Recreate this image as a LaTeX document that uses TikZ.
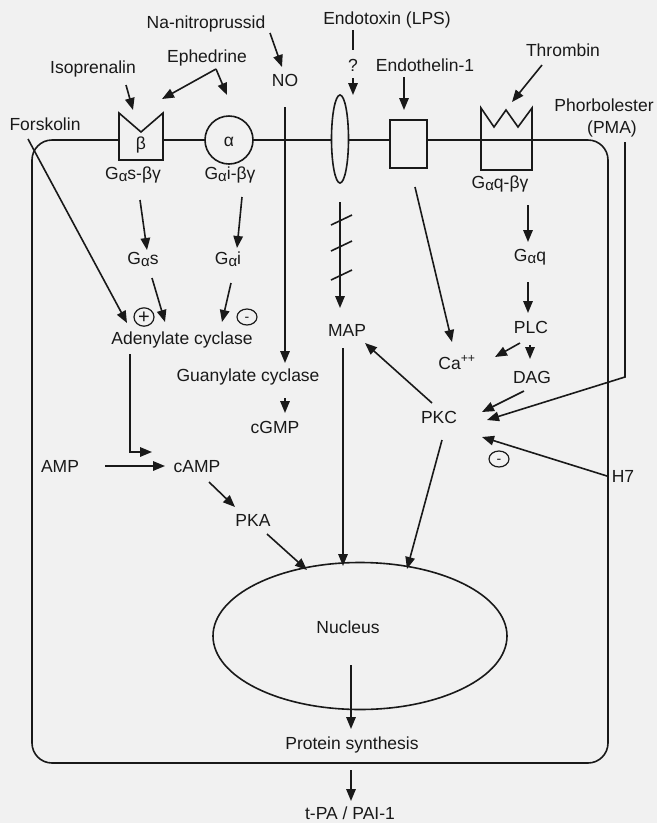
\documentclass[tikz,border=0pt]{standalone}
\usepackage{fontspec}
\setmainfont{Liberation Sans}
\usetikzlibrary{arrows.meta,shapes.geometric}
\definecolor{bg}{RGB}{241,241,241}
\definecolor{ink}{RGB}{25,25,25}
\newcommand{\Gsub}{G\raisebox{-1.8pt}{\fontsize{15}{15}\selectfont α}}
\begin{document}
\begin{tikzpicture}[x=1pt,y=-1pt,
  every node/.style={font=\fontsize{17.5}{21}\selectfont, text=ink, inner sep=1pt, text height=12.5pt, text depth=0pt},
  arr/.style={draw=ink, line width=1.6pt, -{Triangle[length=12pt,width=9.5pt]}},
  ln/.style={draw=ink, line width=1.6pt},
  sign/.style={ellipse, draw=ink, line width=1.2pt, minimum width=20pt, minimum height=16pt, inner sep=0pt, font=\fontsize{20}{20}\selectfont, text height=13pt, text depth=0pt},
  signm/.style={sign, font=\fontsize{14}{14}\selectfont, text height=8.5pt}]
\useasboundingbox (0,0) rectangle (657,823);
\fill[bg] (0,0) rectangle (657,823);

% cell membrane
\draw[ln, rounded corners=20pt] (32,140) rectangle (608,763);

% receptors
\draw[ln, fill=bg, line join=miter] (119,113) -- (119,160) -- (163,160) -- (163,113) -- (141,132) -- cycle;
\node (beta) at (141,143) {β};
\node[circle, draw=ink, line width=1.6pt, fill=bg, minimum size=48pt, inner sep=0pt] (alpha) at (229,140) {α};
\node[ellipse, draw=ink, line width=1.6pt, fill=bg, minimum width=17pt, minimum height=88pt, inner sep=0pt] (lpsell) at (340,139) {};
\node[rectangle, draw=ink, line width=1.6pt, fill=bg, minimum width=37pt, minimum height=48pt, inner sep=0pt] (etbox) at (408.5,144) {};
\draw[ln, line join=miter] (481,170) -- (481,108) -- (494,127) -- (506,110) -- (518,127) -- (532,108) -- (532,170) -- cycle;
\coordinate (thrc) at (506,139);

% texts
\node (nitro) at (206,22) {Na-nitroprussid};
\node (no) at (285,80) {NO};
\node (iso) at (93,67) {Isoprenalin};
\node (eph) at (207,56) {Ephedrine};
\node (forsk) at (45,124) {Forskolin};
\node (lps) at (387,18) {Endotoxin (LPS)};
\node (q) at (353,65) {?};
\node (et) at (425,65) {Endothelin-1};
\node (thr) at (563,50) {Thrombin};
\node (pmaa) at (604,105) {Phorbolester};
\node (pmab) at (612,127) {(PMA)};
\node (gasbg) at (133,173) {\Gsub s-βγ};
\node (gaibg) at (230,173) {\Gsub i-βγ};
\node (gaqbg) at (500,182) {\Gsub q-βγ};
\node (gas) at (143,258) {\Gsub s};
\node (gai) at (228,258) {\Gsub i};
\node[sign] (plus) at (144,317) {+};
\node[signm] (minus) at (247,317) {-};
\node (ac) at (182,338) {Adenylate cyclase};
\node (gc) at (248,375) {Guanylate cyclase};
\node (cgmp) at (275,427) {cGMP};
\node (amp) at (60,466) {AMP};
\node (camp) at (197,466) {cAMP};
\node (pka) at (253,520) {PKA};
\node (map) at (347,330) {MAP};
\node (gaq) at (530,255) {\Gsub q};
\node (plc) at (531,327) {PLC};
\node (ca) at (457,363) {Ca\textsuperscript{++}};
\node (dag) at (532,377) {DAG};
\node (pkc) at (439,417) {PKC};
\node[signm] (minus2) at (499,459) {-};
\node (h7) at (623,476) {H7};
\node[ellipse, draw=ink, line width=1.6pt, minimum width=294pt, minimum height=147pt, inner sep=0pt] (nucleus) at (360,636) {};
\node (nuclab) at (348,627) {Nucleus};
\node (prot) at (352,743) {Protein synthesis};
\node (tpa) at (350,813) {t-PA / PAI-1};

% connectors
\draw[arr] ([shift={(64,11)}]nitro.center) -- ([shift={(-3,-13)}]no.center);
\draw[arr] ([shift={(33,18)}]iso.center) -- ([shift={(-8,-33)}]beta.center);
\coordinate (ephv) at ([shift={(9,13)}]eph.center);
\draw[arr] (ephv) -- ([shift={(21,-44)}]beta.center);
\draw[arr] (ephv) -- ([shift={(-2,-45)}]alpha.center);
\draw[arr] ([shift={(0,27)}]no.center) -- ([shift={(37,-12)}]gc.center);
\draw[arr] ([shift={(-17,15)}]forsk.center) -- ([shift={(-17,6)}]plus.center);
\draw[arr] ([shift={(7,27)}]gasbg.center) -- ([shift={(4,-8)}]gas.center);
\draw[arr] ([shift={(12,24)}]gaibg.center) -- ([shift={(9,-10)}]gai.center);
\draw[arr] ([shift={(9,20)}]gas.center) -- ([shift={(-17,-16)}]ac.center);
\draw[arr] ([shift={(3,25)}]gai.center) -- ([shift={(40,-16)}]ac.center);
\draw[arr] ([shift={(-52,16)}]ac.center) |- ([shift={(-45,-14)}]camp.center);
\draw[arr] ([shift={(37,23)}]gc.center) -- ([shift={(10,-14)}]cgmp.center);
\draw[arr] ([shift={(45,0)}]amp.center) -- ([shift={(-32,0)}]camp.center);
\draw[arr] ([shift={(12,16)}]camp.center) -- ([shift={(-18,-13)}]pka.center);
\draw[arr] ([shift={(14,14)}]pka.center) -- ([shift={(-53,-66)}]nucleus.center);
\draw[arr] ([shift={(-4,18)}]map.center) -- ([shift={(-17,-70)}]nucleus.center);
\draw[arr] ([shift={(3,23)}]pkc.center) -- ([shift={(47,-67)}]nucleus.center);
\draw[arr] ([shift={(-9,29)}]nucleus.center) -- ([shift={(-1,-14)}]prot.center);
\draw[arr] ([shift={(-1,27)}]prot.center) -- ([shift={(1,-12)}]tpa.center);
\draw[ln] ([shift={(-34,12)}]lps.center) -- ([shift={(0,-15)}]q.center);
\draw[arr] ([shift={(0,13)}]q.center) -- ([shift={(13,-44)}]lpsell.center);
\draw[arr] ([shift={(-21,12)}]et.center) -- ([shift={(-4.5,-34)}]etbox.center);
\draw[arr] ([shift={(6.5,43)}]etbox.center) -- ([shift={(-5,-21)}]ca.center);
\draw[arr] ([shift={(-21,15)}]thr.center) -- ([shift={(6,-37)}]thrc);
\draw[arr] ([shift={(28,23)}]gaqbg.center) -- ([shift={(-2,-13)}]gaq.center);
\draw[arr] ([shift={(-2,27)}]gaq.center) -- ([shift={(-3,-14)}]plc.center);
\draw[arr] ([shift={(-11,16)}]plc.center) -- ([shift={(38,-6)}]ca.center);
\draw[arr] ([shift={(-1,18)}]plc.center) -- ([shift={(-2,-18)}]dag.center);
\draw[arr] ([shift={(-8,14)}]dag.center) -- ([shift={(43,-5)}]pkc.center);
\draw[arr] ([shift={(13,15)}]pmab.center) -- ([shift={(13,250)}]pmab.center) -- ([shift={(48,3)}]pkc.center);
\draw[arr] ([shift={(-16,0)}]h7.center) -- ([shift={(43,20)}]pkc.center);
\draw[arr] ([shift={(-7,-14)}]pkc.center) -- ([shift={(18,13)}]map.center);
\draw[arr] ([shift={(0,63)}]lpsell.center) -- ([shift={(-7,-22)}]map.center);
% interruption marks
\draw[ln] ([shift={(-9,86)}]lpsell.center) -- ([shift={(12,76)}]lpsell.center);
\draw[ln] ([shift={(-9,112)}]lpsell.center) -- ([shift={(12,102)}]lpsell.center);
\draw[ln] ([shift={(-9,141)}]lpsell.center) -- ([shift={(12,131)}]lpsell.center);
\end{tikzpicture}
\end{document}
